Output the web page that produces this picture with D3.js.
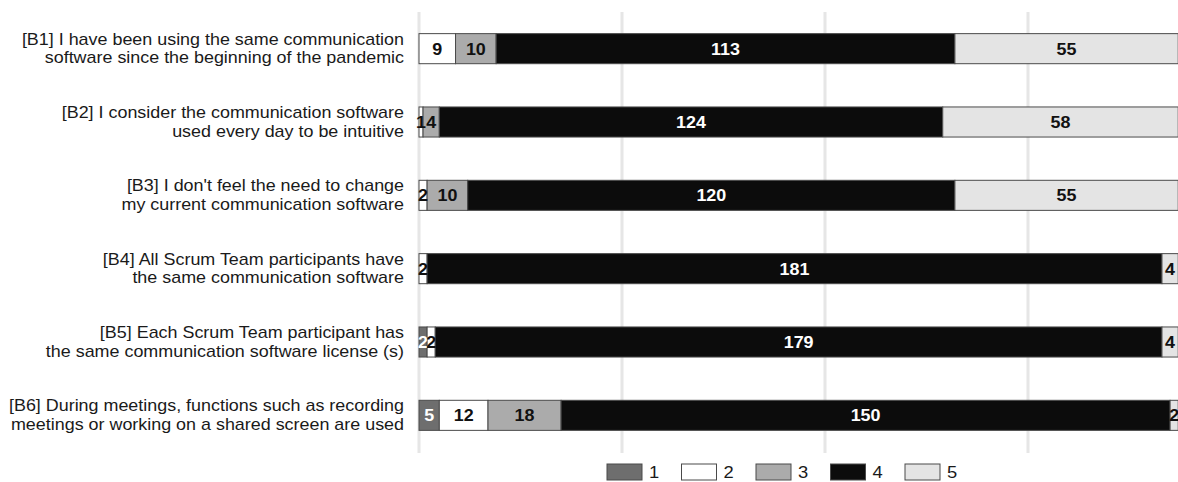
<!DOCTYPE html>
<html>
<head>
<meta charset="utf-8">
<script src="https://cdn.jsdelivr.net/npm/d3@7"></script>
<style>
  html, body { margin: 0; padding: 0; background: #fff; }
  svg { display: block; font-family: "Liberation Sans", Arial, sans-serif; }
</style>
</head>
<body>
<svg id="chart" width="1178" height="482"></svg>
<script>
// ---- data ----
const questions = ["B1", "B2", "B3", "B4", "B5", "B6"];
const questionLines = [
  ["[B1] I have been using the same communication", "software since the beginning of the pandemic"],
  ["[B2] I consider the communication software", "used every day to be intuitive"],
  ["[B3] I don't feel the need to change", "my current communication software"],
  ["[B4] All Scrum Team participants have", "the same communication software"],
  ["[B5] Each Scrum Team participant has", "the same communication software license (s)"],
  ["[B6] During meetings, functions such as recording", "meetings or working on a shared screen are used"]
];
const seriesNames = ["1", "2", "3", "4", "5"];
const s1 = [0, 0, 0, 0, 2, 5];
const s2 = [9, 1, 2, 2, 2, 12];
const s3 = [10, 4, 10, 0, 0, 18];
const s4 = [113, 124, 120, 181, 179, 150];
const s5 = [55, 58, 55, 4, 4, 2];
const gridTicks = [0, 50, 100, 150, 200];

// ---- build table ----
const seriesValues = [s1, s2, s3, s4, s5];
const table = questions.map((q, i) => {
  const row = { q };
  seriesNames.forEach((s, j) => row[s] = seriesValues[j][i]);
  return row;
});

const colors = ["#6e6e6e", "#ffffff", "#ababab", "#0c0c0c", "#e4e4e4"];
const labelColors = ["#ffffff", "#111111", "#111111", "#ffffff", "#111111"];
const SX = 1.12; // horizontal stretch of glyphs

const svg = d3.select("#chart");
const x = d3.scaleLinear().domain([0, 200]).range([419, 1231]);
const y = d3.scaleBand().domain(questions).range([12, 452])
  .paddingInner(0.59).paddingOuter(0.295);
const color = d3.scaleOrdinal().domain(seriesNames).range(colors);
const lblColor = d3.scaleOrdinal().domain(seriesNames).range(labelColors);

// gridlines
svg.append("g").selectAll("line").data(gridTicks).join("line")
  .attr("x1", d => x(d)).attr("x2", d => x(d))
  .attr("y1", 12).attr("y2", 453)
  .attr("stroke", "#e6e6e6").attr("stroke-width", 3);

// stacks
const stack = d3.stack().keys(seriesNames)(table);
const layers = svg.append("g").selectAll("g").data(stack).join("g")
  .attr("fill", d => color(d.key));

layers.selectAll("rect").data(d => d.map(v => ({ v, key: d.key }))).join("rect")
  .filter(d => d.v[1] - d.v[0] > 0)
  .attr("x", d => x(d.v[0]))
  .attr("y", d => y(d.v.data.q))
  .attr("width", d => x(d.v[1]) - x(d.v[0]))
  .attr("height", y.bandwidth())
  .attr("stroke", "#4a4a4a").attr("stroke-width", 1);

// value labels
const lbl = svg.append("g");
stack.forEach(layer => {
  layer.forEach(v => {
    const val = v[1] - v[0];
    if (val <= 0) return;
    const cx = (x(v[0]) + x(v[1])) / 2;
    const cy = y(v.data.q) + y.bandwidth() / 2;
    lbl.append("text")
      .attr("transform", `translate(${cx},${cy + 6}) scale(${SX},1)`)
      .attr("text-anchor", "middle")
      .attr("font-size", 16).attr("font-weight", "bold")
      .attr("fill", lblColor(layer.key))
      .text(val);
  });
});

// category labels
const yl = svg.append("g");
questions.forEach((q, i) => {
  const cy = y(q) + y.bandwidth() / 2;
  questionLines[i].forEach((line, k) => {
    yl.append("text")
      .attr("transform", `translate(404,${cy + (k === 0 ? -4 : 14.5)}) scale(${SX},1)`)
      .attr("text-anchor", "end")
      .attr("font-size", 16)
      .attr("fill", "#1a1a1a")
      .text(line);
  });
});

// legend
const leg = svg.append("g").selectAll("g").data(seriesNames).join("g")
  .attr("transform", (d, i) => `translate(${607 + i * 74.5},464)`);
leg.append("rect").attr("width", 35).attr("height", 16)
  .attr("fill", d => color(d)).attr("stroke", "#4a4a4a").attr("stroke-width", 1);
leg.append("text")
  .attr("transform", `translate(42,14) scale(1.08,1)`)
  .attr("font-size", 17).attr("fill", "#1a1a1a")
  .text(d => d);
</script>
</body>
</html>
